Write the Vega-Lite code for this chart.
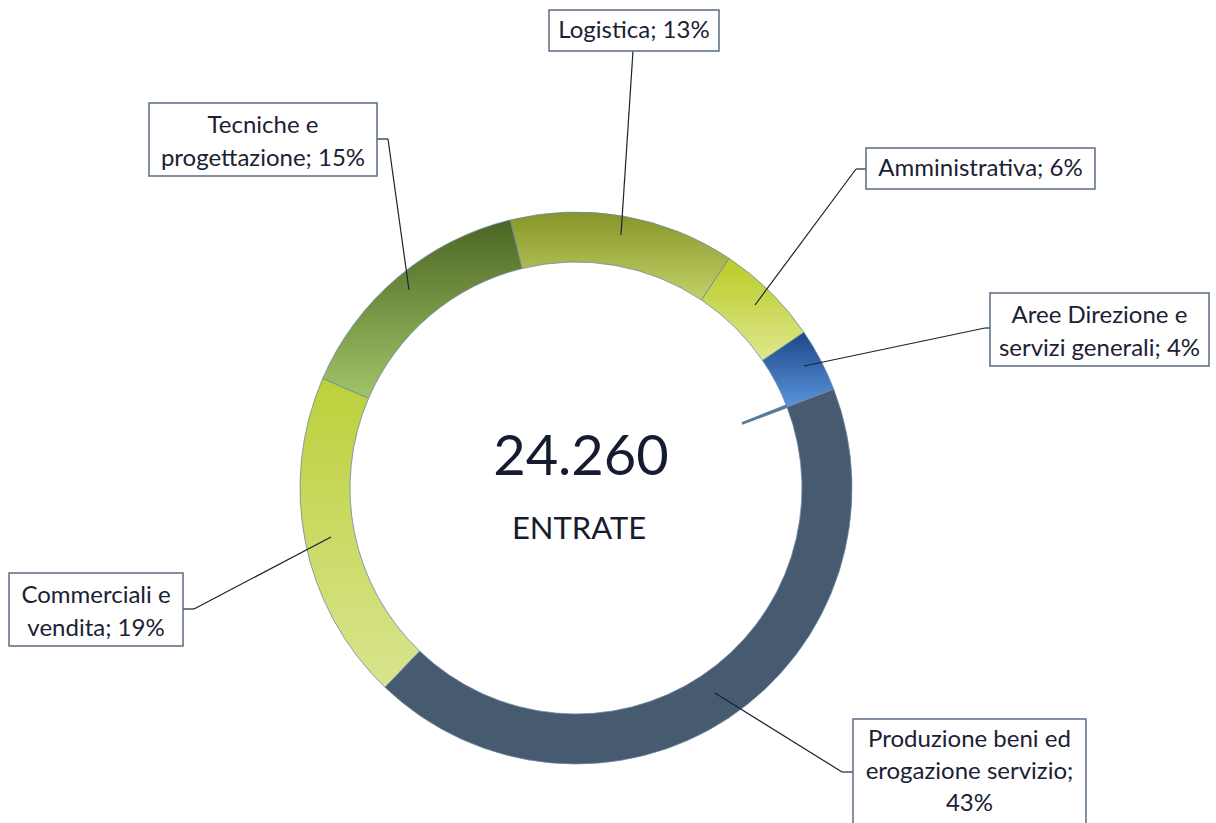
{
  "$schema": "https://vega.github.io/schema/vega-lite/v6.json",
  "width": 1152,
  "height": 670,
  "autosize": "none",
  "padding": {"left": 0, "top": 153, "right": 64, "bottom": 0},
  "background": "white",
  "config": {
    "view": {"stroke": null},
    "axis": {"disable": true},
    "text": {"font": "Lato"},
    "locale": {"number": {"decimal": ",", "thousands": ".", "grouping": [3], "currency": ["€", ""]}}
  },
  "data": {
    "values": [
      {"cat": "Produzione beni ed erogazione servizio", "n": 10432, "label": ["Produzione beni ed", "erogazione servizio;", "43%"]},
      {"cat": "Commerciali e vendita", "n": 4690, "label": ["Commerciali e", "vendita; 19%"]},
      {"cat": "Tecniche e progettazione", "n": 3560, "label": ["Tecniche e", "progettazione; 15%"]},
      {"cat": "Logistica", "n": 3200, "label": ["Logistica; 13%"]},
      {"cat": "Amministrativa", "n": 1480, "label": ["Amministrativa; 6%"]},
      {"cat": "Aree Direzione e servizi generali", "n": 898, "label": ["Aree Direzione e", "servizi generali; 4%"]}
    ]
  },
  "layer": [
    {
      "transform": [{"filter": "datum.cat === 'Aree Direzione e servizi generali'"}],
      "mark": {"type": "arc", "innerRadius": 178, "outerRadius": 228, "fill": "#5d7b98"},
      "encoding": {
        "theta": {"datum": -45, "type": "quantitative", "scale": {"domain": [0, 24260], "range": [1.2043, 7.4875]}},
        "theta2": {"datum": 15}
      }
    },
    {
      "mark": {"type": "arc", "outerRadius": 276, "innerRadius": 226, "stroke": "#7086a4", "strokeWidth": 0.8},
      "encoding": {
        "theta": {"field": "n", "type": "quantitative", "stack": true, "scale": {"domain": [0, 24260], "range": [1.2043, 7.4875]}},
        "order": {"field": "n", "sort": "descending"},
        "detail": {"field": "cat"},
        "fill": {
          "condition": [
            {"test": "datum.cat === 'Commerciali e vendita'", "value": {"gradient": "linear", "x1": 0, "y1": 0, "x2": 0, "y2": 1, "stops": [{"offset": 0, "color": "#bcd03a"}, {"offset": 1, "color": "#d9e48f"}]}},
            {"test": "datum.cat === 'Tecniche e progettazione'", "value": {"gradient": "linear", "x1": 0, "y1": 0, "x2": 0, "y2": 1, "stops": [{"offset": 0, "color": "#4b6623"}, {"offset": 1, "color": "#a2c468"}]}},
            {"test": "datum.cat === 'Logistica'", "value": {"gradient": "linear", "x1": 0, "y1": 0, "x2": 0, "y2": 1, "stops": [{"offset": 0, "color": "#86942a"}, {"offset": 1, "color": "#c3d266"}]}},
            {"test": "datum.cat === 'Amministrativa'", "value": {"gradient": "linear", "x1": 0, "y1": 0, "x2": 0, "y2": 1, "stops": [{"offset": 0, "color": "#bacb24"}, {"offset": 1, "color": "#dee78e"}]}},
            {"test": "datum.cat === 'Aree Direzione e servizi generali'", "value": {"gradient": "linear", "x1": 0, "y1": 0, "x2": 0, "y2": 1, "stops": [{"offset": 0, "color": "#1d4786"}, {"offset": 1, "color": "#5a94de"}]}}
          ],
          "value": "#465b70"
        }
      }
    },
    {
      "transform": [{"filter": "datum.cat === 'Logistica'"}],
      "layer": [
        {
          "mark": {"type": "rule", "color": "#1b2236", "strokeWidth": 1.2},
          "encoding": {
            "x": {"datum": 20.65, "type": "quantitative", "scale": {"domain": [-208.7, 208.7], "nice": false, "zero": false}, "axis": null},
            "y": {"datum": 158.33, "type": "quantitative", "scale": {"domain": [-121.38, 121.38], "nice": false, "zero": false}, "axis": null},
            "x2": {"datum": 16.3},
            "y2": {"datum": 91.67}
          }
        },
        {
          "mark": {"type": "rect", "fill": "white", "stroke": "#5b6c82", "strokeWidth": 1.5},
          "encoding": {
            "x": {"datum": -9.78, "type": "quantitative"},
            "x2": {"datum": 51.81},
            "y": {"datum": 158.33, "type": "quantitative"},
            "y2": {"datum": 173.19}
          }
        },
        {
          "mark": {"type": "text", "fontSize": 24, "color": "#1b2134", "align": "center", "baseline": "middle", "lineHeight": 33},
          "encoding": {
            "x": {"datum": 21.01, "type": "quantitative"},
            "y": {"datum": 165.76, "type": "quantitative"},
            "text": {"field": "label"}
          }
        }
      ]
    },
    {
      "transform": [{"filter": "datum.cat === 'Amministrativa'"}],
      "layer": [
        {
          "mark": {"type": "rule", "color": "#1b2236", "strokeWidth": 1.2},
          "encoding": {
            "x": {"datum": 101.45, "type": "quantitative"},
            "y": {"datum": 115.58, "type": "quantitative"},
            "x2": {"datum": 64.86},
            "y2": {"datum": 66.3}
          }
        },
        {
          "mark": {"type": "rule", "color": "#1b2236", "strokeWidth": 1.2},
          "encoding": {
            "x": {"datum": 101.45, "type": "quantitative"},
            "y": {"datum": 115.58, "type": "quantitative"},
            "x2": {"datum": 105.07},
            "y2": {"datum": 115.58}
          }
        },
        {
          "mark": {"type": "rect", "fill": "white", "stroke": "#5b6c82", "strokeWidth": 1.5},
          "encoding": {
            "x": {"datum": 105.07, "type": "quantitative"},
            "x2": {"datum": 188.04},
            "y": {"datum": 108.33, "type": "quantitative"},
            "y2": {"datum": 123.19}
          }
        },
        {
          "mark": {"type": "text", "fontSize": 24, "color": "#1b2134", "align": "center", "baseline": "middle", "lineHeight": 33},
          "encoding": {
            "x": {"datum": 146.56, "type": "quantitative"},
            "y": {"datum": 115.76, "type": "quantitative"},
            "text": {"field": "label"}
          }
        }
      ]
    },
    {
      "transform": [{"filter": "datum.cat === 'Tecniche e progettazione'"}],
      "layer": [
        {
          "mark": {"type": "rule", "color": "#1b2236", "strokeWidth": 1.2},
          "encoding": {
            "x": {"datum": -68.12, "type": "quantitative"},
            "y": {"datum": 126.45, "type": "quantitative"},
            "x2": {"datum": -60.51},
            "y2": {"datum": 71.74}
          }
        },
        {
          "mark": {"type": "rule", "color": "#1b2236", "strokeWidth": 1.2},
          "encoding": {
            "x": {"datum": -72.1, "type": "quantitative"},
            "y": {"datum": 126.45, "type": "quantitative"},
            "x2": {"datum": -68.12},
            "y2": {"datum": 126.45}
          }
        },
        {
          "mark": {"type": "rect", "fill": "white", "stroke": "#5b6c82", "strokeWidth": 1.5},
          "encoding": {
            "x": {"datum": -154.71, "type": "quantitative"},
            "x2": {"datum": -72.1},
            "y": {"datum": 113.04, "type": "quantitative"},
            "y2": {"datum": 139.49}
          }
        },
        {
          "mark": {"type": "text", "fontSize": 24, "color": "#1b2134", "align": "center", "baseline": "alphabetic", "lineHeight": 33},
          "encoding": {
            "x": {"datum": -113.41, "type": "quantitative"},
            "y": {"datum": 128.62, "type": "quantitative"},
            "text": {"field": "label"}
          }
        }
      ]
    },
    {
      "transform": [{"filter": "datum.cat === 'Aree Direzione e servizi generali'"}],
      "layer": [
        {
          "mark": {"type": "rule", "color": "#1b2236", "strokeWidth": 1.2},
          "encoding": {
            "x": {"datum": 148.19, "type": "quantitative"},
            "y": {"datum": 57.97, "type": "quantitative"},
            "x2": {"datum": 82.61},
            "y2": {"datum": 44.2}
          }
        },
        {
          "mark": {"type": "rule", "color": "#1b2236", "strokeWidth": 1.2},
          "encoding": {
            "x": {"datum": 148.19, "type": "quantitative"},
            "y": {"datum": 57.97, "type": "quantitative"},
            "x2": {"datum": 150.0},
            "y2": {"datum": 57.97}
          }
        },
        {
          "mark": {"type": "rect", "fill": "white", "stroke": "#5b6c82", "strokeWidth": 1.5},
          "encoding": {
            "x": {"datum": 150.0, "type": "quantitative"},
            "x2": {"datum": 229.35},
            "y": {"datum": 44.2, "type": "quantitative"},
            "y2": {"datum": 70.65}
          }
        },
        {
          "mark": {"type": "text", "fontSize": 24, "color": "#1b2134", "align": "center", "baseline": "alphabetic", "lineHeight": 33},
          "encoding": {
            "x": {"datum": 189.67, "type": "quantitative"},
            "y": {"datum": 59.89, "type": "quantitative"},
            "text": {"field": "label"}
          }
        }
      ]
    },
    {
      "transform": [{"filter": "datum.cat === 'Commerciali e vendita'"}],
      "layer": [
        {
          "mark": {"type": "rule", "color": "#1b2236", "strokeWidth": 1.2},
          "encoding": {
            "x": {"datum": -138.41, "type": "quantitative"},
            "y": {"datum": -43.84, "type": "quantitative"},
            "x2": {"datum": -88.77},
            "y2": {"datum": -17.75}
          }
        },
        {
          "mark": {"type": "rule", "color": "#1b2236", "strokeWidth": 1.2},
          "encoding": {
            "x": {"datum": -142.39, "type": "quantitative"},
            "y": {"datum": -43.84, "type": "quantitative"},
            "x2": {"datum": -138.41},
            "y2": {"datum": -43.84}
          }
        },
        {
          "mark": {"type": "rect", "fill": "white", "stroke": "#5b6c82", "strokeWidth": 1.5},
          "encoding": {
            "x": {"datum": -205.43, "type": "quantitative"},
            "x2": {"datum": -142.39},
            "y": {"datum": -57.25, "type": "quantitative"},
            "y2": {"datum": -30.8}
          }
        },
        {
          "mark": {"type": "text", "fontSize": 24, "color": "#1b2134", "align": "center", "baseline": "alphabetic", "lineHeight": 33},
          "encoding": {
            "x": {"datum": -173.91, "type": "quantitative"},
            "y": {"datum": -41.67, "type": "quantitative"},
            "text": {"field": "label"}
          }
        }
      ]
    },
    {
      "transform": [{"filter": "datum.cat === 'Produzione beni ed erogazione servizio'"}],
      "layer": [
        {
          "mark": {"type": "rule", "color": "#1b2236", "strokeWidth": 1.2},
          "encoding": {
            "x": {"datum": 50.36, "type": "quantitative"},
            "y": {"datum": -74.28, "type": "quantitative"},
            "x2": {"datum": 96.38},
            "y2": {"datum": -102.9}
          }
        },
        {
          "mark": {"type": "rule", "color": "#1b2236", "strokeWidth": 1.2},
          "encoding": {
            "x": {"datum": 96.38, "type": "quantitative"},
            "y": {"datum": -102.9, "type": "quantitative"},
            "x2": {"datum": 100.36},
            "y2": {"datum": -102.9}
          }
        },
        {
          "mark": {"type": "rect", "fill": "white", "stroke": "#5b6c82", "strokeWidth": 1.5},
          "encoding": {
            "x": {"datum": 100.36, "type": "quantitative"},
            "x2": {"datum": 184.78},
            "y": {"datum": -140, "type": "quantitative"},
            "y2": {"datum": -83.7}
          }
        },
        {
          "mark": {"type": "text", "fontSize": 24, "color": "#1b2134", "align": "center", "baseline": "alphabetic", "lineHeight": 32},
          "encoding": {
            "x": {"datum": 142.57, "type": "quantitative"},
            "y": {"datum": -93.84, "type": "quantitative"},
            "text": {"field": "label"}
          }
        }
      ]
    },
    {
      "transform": [{"aggregate": [{"op": "sum", "field": "n", "as": "total"}]}],
      "layer": [
        {
          "mark": {"type": "text", "fontSize": 56, "color": "#161c30", "align": "center", "baseline": "alphabetic"},
          "encoding": {
            "x": {"datum": 1.8, "type": "quantitative"},
            "y": {"datum": 4.71, "type": "quantitative"},
            "text": {"field": "total", "type": "quantitative", "format": ",d"}
          }
        },
        {
          "mark": {"type": "text", "fontSize": 31, "color": "#161c30", "align": "center", "baseline": "alphabetic"},
          "encoding": {
            "x": {"datum": 1.1, "type": "quantitative"},
            "y": {"datum": -18.48, "type": "quantitative"},
            "text": {"value": "ENTRATE"}
          }
        }
      ]
    }
  ]
}
